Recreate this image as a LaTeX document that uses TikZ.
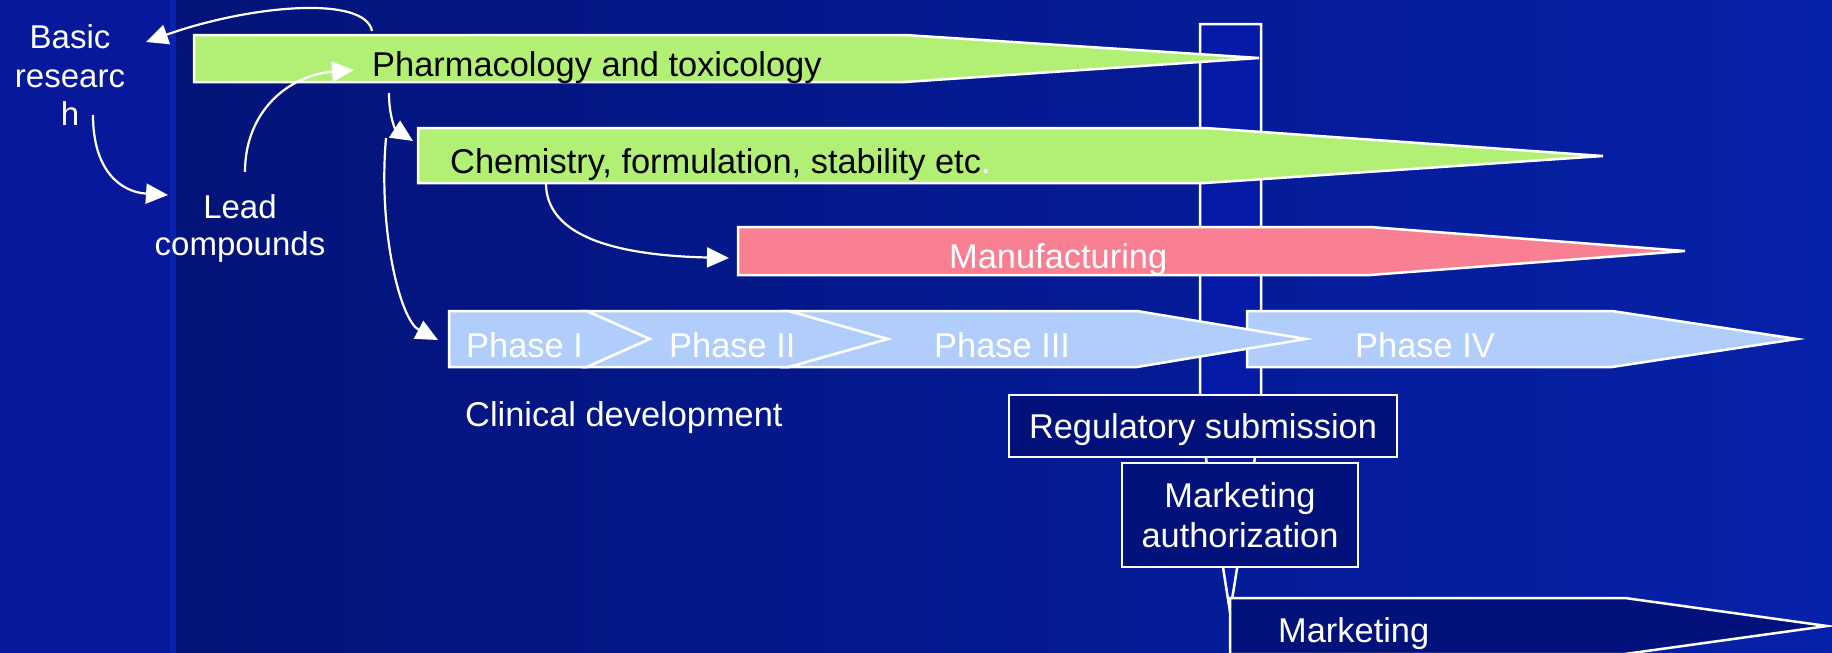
\documentclass[tikz,border=0pt]{standalone}
\usepackage{fontspec}
\setmainfont{Liberation Sans}
\usetikzlibrary{arrows.meta}
\definecolor{bgstrip}{HTML}{07199A}
\definecolor{bgline}{HTML}{0B22AE}
\definecolor{bgleft}{HTML}{031379}
\definecolor{bgright}{HTML}{0621A9}
\definecolor{winfill}{HTML}{051BA8}
\definecolor{navybox}{HTML}{03127A}
\definecolor{barGreen}{HTML}{B2F075}
\definecolor{barPink}{HTML}{F98093}
\definecolor{barBlue}{HTML}{B1CDFB}
\begin{document}
\begin{tikzpicture}[x=1pt,y=-1pt,
  bar/.style={draw=white, line width=2.5pt, line join=miter},
  box/.style={draw=white, line width=2.5pt, fill=navybox},
  conn/.style={draw=white, line width=2.2pt, -{Triangle[length=22pt,width=20pt]}},
  lbl/.style={inner sep=0pt, font=\fontsize{34.4}{40}\selectfont},
  side/.style={inner sep=0pt, font=\fontsize{33}{39}\selectfont, text=white, anchor=base}]
\useasboundingbox (0,0) rectangle (1832,653);
% background
\shade[left color=bgleft, right color=bgright] (173,0) rectangle (1832,653);
\fill[bgstrip] (0,0) rectangle (170,653);
\fill[bgline] (170,0) rectangle (176,653);
% submission window (tapering down to Marketing)
\path[bar, fill=winfill] (1200,24) -- (1261,24) -- (1261,420) -- (1230,612) -- (1200,420) -- cycle;
% bars
\path[bar, fill=barGreen] (194,35) -- (905,35) -- (1259,58) -- (905,82) -- (194,82) -- cycle;
\path[bar, fill=barGreen] (418,128) -- (1205,128) -- (1603,156) -- (1205,183) -- (418,183) -- cycle;
\path[bar, fill=barPink] (738,227) -- (1370,227) -- (1685,251) -- (1370,275) -- (738,275) -- cycle;
\path[bar, fill=barBlue] (1247,311) -- (1612,311) -- (1797,339) -- (1612,367) -- (1247,367) -- cycle;
\path[bar, fill=barBlue] (449,311) -- (587,311) -- (650,339) -- (587,367) -- (449,367) -- cycle;
\path[bar, fill=barBlue] (587,311) -- (789,311) -- (888,339) -- (789,367) -- (587,367) -- (650,339) -- cycle;
\path[bar, fill=barBlue] (789,311) -- (1137,311) -- (1306,339) -- (1137,367) -- (789,367) -- (888,339) -- cycle;
% boxes
\path[box] (1009,395) rectangle (1397,457);
\path[box] (1122,463) rectangle (1358,567);
\path[box] (1230,598) -- (1625,598) -- (1827,626) -- (1625,654) -- (1230,654) -- cycle;
% texts
\node[side] (basic1) at (70,48) {Basic};
\node[side] (basic2) at (70,87) {researc};
\node[side] (basic3) at (70,125) {h};
\node[side] (lead1) at (240,218) {Lead};
\node[side] (lead2) at (240,255) {compounds};
\node[lbl, anchor=base west] (pharm) at (372,76) {Pharmacology and toxicology};
\node[lbl, anchor=base west] (chem) at (450,173) {Chemistry, formulation, stability etc\textcolor{white}{.}};
\node[lbl, anchor=base west, text=white] (manuf) at (949,268) {Manufacturing};
\node[lbl, anchor=base west, text=white] (ph1) at (466,357) {Phase I};
\node[lbl, anchor=base west, text=white] (ph2) at (669,357) {Phase II};
\node[lbl, anchor=base west, text=white] (ph3) at (934,357) {Phase III};
\node[lbl, anchor=base west, text=white] (ph4) at (1355,357) {Phase IV};
\node[lbl, anchor=base west, text=white] (clin) at (465,426) {Clinical development};
\node[lbl, anchor=base, text=white] (regsub) at (1203,438) {Regulatory submission};
\node[lbl, anchor=base, text=white] (mauth1) at (1240,507) {Marketing};
\node[lbl, anchor=base, text=white] (mauth2) at (1240,547) {authorization};
\node[lbl, anchor=base west, text=white] (mkt) at (1278,642) {Marketing};
% connector end points
\coordinate (pTop) at (372,31);
\coordinate (bTip) at (146,42);
\coordinate (hStart) at (93,115);
\coordinate (lTip) at (168,195);
\coordinate (lStart) at (245,172);
\coordinate (pTip) at (354,70);
\coordinate (pBot) at (389,93);
\coordinate (cTip) at (413,141);
\coordinate (cLeft) at (386,138);
\coordinate (phTip) at (438,340);
\coordinate (cBot) at (546,183);
\coordinate (mTip) at (729,258);
% connectors
\draw[conn] (pTop) .. controls (365,-5) and (250,5) .. (bTip);
\draw[conn] (hStart) .. controls (93,170) and (120,192) .. (lTip);
\draw[conn] (lStart) .. controls (245,110) and (290,75) .. (pTip);
\draw[conn] (pBot) .. controls (389,118) and (396,130) .. (cTip);
\draw[conn] (cLeft) .. controls (378,230) and (400,320) .. (phTip);
\draw[conn] (cBot) .. controls (546,230) and (600,255) .. (mTip);
\end{tikzpicture}
\end{document}
